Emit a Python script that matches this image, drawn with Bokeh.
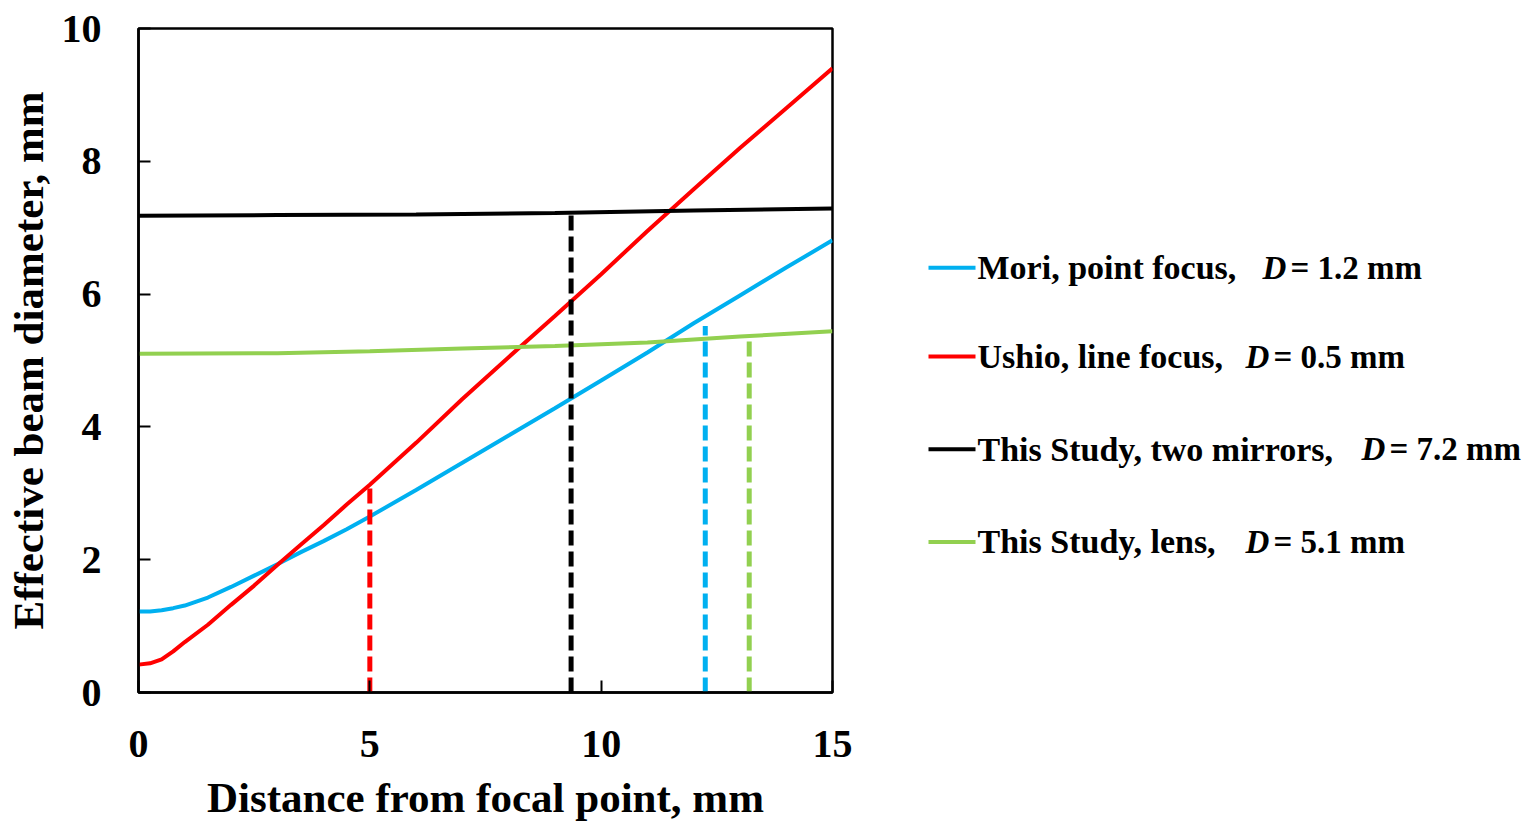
from bokeh.plotting import figure
from bokeh.layouts import row
from bokeh.models import Range1d, FixedTicker
from bokeh.core.properties import value
from bokeh.embed import file_html
from bokeh.resources import INLINE

# ---- data ----
x_mori = [0, 0.25, 0.5, 0.75, 1, 1.5, 2, 2.5, 3, 3.5, 4, 4.5, 5, 6, 7, 8, 9, 10, 11, 12, 13, 14, 15]
y_mori = [1.22, 1.22, 1.24, 1.27, 1.31, 1.43, 1.59, 1.76, 1.93, 2.11, 2.28, 2.46, 2.65, 3.05, 3.46, 3.87, 4.28, 4.7, 5.12, 5.56, 5.98, 6.4, 6.81]

x_ushio = [0, 0.25, 0.5, 0.75, 1, 1.5, 2, 2.5, 3, 3.5, 4, 4.5, 5, 6, 7, 8, 9, 10, 11, 12, 13, 14, 15]
y_ushio = [0.42, 0.44, 0.5, 0.62, 0.76, 1.02, 1.32, 1.61, 1.92, 2.22, 2.52, 2.83, 3.13, 3.76, 4.42, 5.05, 5.67, 6.3, 6.95, 7.58, 8.2, 8.8, 9.4]

x_mirrors = [0, 3, 6, 9, 12, 15]
y_mirrors = [7.18, 7.19, 7.2, 7.22, 7.26, 7.29]

x_lens = [0, 3, 5, 7, 9, 11, 13, 15]
y_lens = [5.1, 5.11, 5.14, 5.18, 5.22, 5.27, 5.36, 5.44]

# vertical dashed markers: x position and height
mark_x = [5.0, 9.35, 12.25, 13.2]
mark_top = [3.12, 7.22, 5.52, 5.37]

series_names = ["Mori, point focus,", "Ushio, line focus,", "This Study, two mirrors,", "This Study, lens,"]
series_D = ["= 1.2 mm", "= 0.5 mm", "= 7.2 mm", "= 5.1 mm"]
colors = ["#00B0F0", "#FF0000", "#000000", "#92D050"]
mark_colors = ["#FF0000", "#000000", "#00B0F0", "#92D050"]

x_ticks = [0, 5, 10, 15]
y_ticks = [0, 2, 4, 6, 8, 10]

FONT = "Liberation Serif"

# ---- main plot ----
p = figure(frame_width=694, frame_height=664,
           x_range=Range1d(0, 15), y_range=Range1d(0, 10),
           output_backend="svg", toolbar_location=None,
           min_border_left=138, min_border_top=28, min_border_bottom=129, min_border_right=20)
p.grid.visible = False
p.outline_line_color = "black"
p.outline_line_width = 2.5
p.background_fill_color = "white"
p.border_fill_color = "white"

for ax in (p.xaxis[0], p.yaxis[0]):
    ax.axis_line_width = 2.5
    ax.axis_line_color = "black"
    ax.major_tick_in = 12
    ax.major_tick_out = 0
    ax.major_tick_line_width = 2
    ax.minor_tick_line_color = None
    ax.major_label_text_font = FONT
    ax.major_label_text_font_style = "bold"
    ax.major_label_text_font_size = "40px"
    ax.major_label_text_color = "black"
    ax.axis_label_text_font = FONT
    ax.axis_label_text_font_style = "bold"
    ax.axis_label_text_font_size = "43px"
    ax.axis_label_text_color = "black"

p.xaxis.ticker = FixedTicker(ticks=x_ticks)
p.yaxis.ticker = FixedTicker(ticks=y_ticks)
p.xaxis.axis_label = "Distance from focal point, mm"
p.yaxis.axis_label = "Effective beam diameter, mm"
p.xaxis.major_label_standoff = 38
p.yaxis.major_label_standoff = 37
p.xaxis.axis_label_standoff = 14
p.yaxis.axis_label_standoff = 7

xs_all = [x_mori, x_ushio, x_mirrors, x_lens]
ys_all = [y_mori, y_ushio, y_mirrors, y_lens]
for xs, ys, c in zip(xs_all, ys_all, colors):
    p.line(xs, ys, line_color=c, line_width=4)

p.segment(x0=mark_x, y0=[0] * len(mark_x), x1=mark_x, y1=mark_top,
          line_color=mark_colors, line_width=5, line_dash="15 6")

# ---- legend panel (frame aligned with the main frame: y 28..692) ----
L_W = 1525 - 852
lg = figure(width=L_W, height=821, x_range=Range1d(0, L_W), y_range=Range1d(692, 28),
            output_backend="svg", toolbar_location=None,
            x_axis_location=None, y_axis_location=None,
            min_border_left=0, min_border_right=0, min_border_top=0, min_border_bottom=0)
lg.grid.visible = False
lg.outline_line_color = None

row_y = [268, 357, 450, 543]
name_x = 125
d_x = [410, 393, 509, 393]
lg.segment(x0=[76] * 4, y0=row_y, x1=[123] * 4, y1=row_y, line_color=colors, line_width=4)
lg.text(x=[name_x] * 4, y=row_y, text=series_names,
        text_font=value(FONT), text_font_style="bold", text_font_size="34px",
        text_baseline="middle", text_align="left", text_color="black")
lg.text(x=d_x, y=row_y, text=["D"] * 4,
        text_font=value(FONT), text_font_style="bold italic", text_font_size="33px",
        text_baseline="middle", text_align="left", text_color="black")
lg.text(x=[v + 28 for v in d_x], y=row_y, text=series_D,
        text_font=value(FONT), text_font_style="bold", text_font_size="33px",
        text_baseline="middle", text_align="left", text_color="black")

layout = row(p, lg)
open("out.html", "w").write(file_html(layout, INLINE))
